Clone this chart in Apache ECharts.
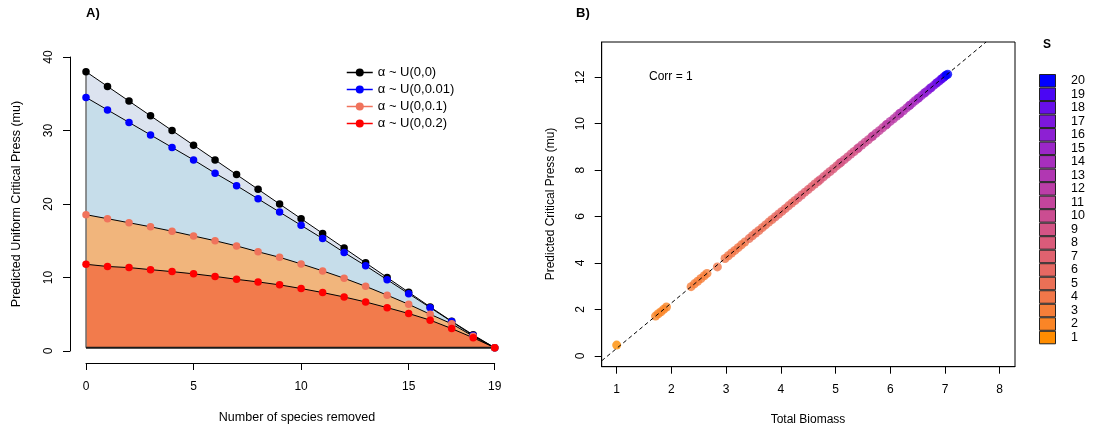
<!DOCTYPE html>
<html>
<head>
<meta charset="utf-8">
<script src="https://cdn.jsdelivr.net/npm/echarts@6/dist/echarts.min.js"></script>
<style>
  html, body { margin: 0; padding: 0; background: #ffffff; }
  #chart { width: 1099px; height: 432px; }
</style>
</head>
<body>
<div id="chart"></div>
<script>
const FONT = '"Liberation Sans", Arial, Helvetica, sans-serif';

// ---------- Panel A: critical press vs. number of species removed ----------
const speciesRemoved = [0, 1, 2, 3, 4, 5, 6, 7, 8, 9, 10, 11, 12, 13, 14, 15, 16, 17, 18, 19];
const pressU0    = [38, 36, 34, 32, 30, 28, 26, 24, 22, 20, 18, 16, 14, 12, 10, 8, 6, 4.05, 2.2, 0.45];
const pressU001  = [34.5, 32.8, 31.1, 29.4, 27.7, 26.0, 24.2, 22.5, 20.7, 18.9, 17.1, 15.3, 13.4, 11.6, 9.7, 7.8, 5.9, 4.0, 2.1, 0.45];
const pressU01   = [18.55, 18.0, 17.45, 16.9, 16.3, 15.65, 15.0, 14.3, 13.5, 12.75, 11.85, 10.9, 9.9, 8.8, 7.6, 6.35, 5.0, 3.7, 2.0, 0.45];
const pressU02   = [11.8, 11.5, 11.35, 11.07, 10.8, 10.5, 10.15, 9.75, 9.4, 9.0, 8.5, 7.95, 7.35, 6.67, 5.9, 5.1, 4.2, 3.05, 1.8, 0.45];
const scenarioNames = ['α ~ U(0,0)', 'α ~ U(0,0.01)', 'α ~ U(0,0.1)', 'α ~ U(0,0.2)'];
const removedTicks = [0, 5, 10, 15, 19];
const pressTicks = [0, 10, 20, 30, 40];

// ---------- Panel B: predicted critical press vs. total biomass, by richness S ----------
const richnessLevels = [1, 2, 3, 4, 5, 6, 7, 8, 9, 10, 11, 12, 13, 14, 15, 16, 17, 18, 19, 20];
const totalBiomass = [
  [1.00],
  [1.71, 1.76, 1.81, 1.86, 1.91],
  [2.36, 2.42, 2.48, 2.54, 2.60, 2.65],
  [2.84, 2.98, 3.04, 3.10, 3.16, 3.22, 3.28, 3.34],
  [3.42, 3.48, 3.54, 3.60, 3.66, 3.72, 3.78, 3.84],
  [3.90, 3.96, 4.02, 4.08, 4.14, 4.20, 4.26],
  [4.32, 4.38, 4.44, 4.50, 4.56, 4.62, 4.68],
  [4.72, 4.78, 4.84, 4.90, 4.96, 5.02, 5.07],
  [5.10, 5.16, 5.22, 5.28, 5.34, 5.40],
  [5.42, 5.48, 5.54, 5.60, 5.66],
  [5.68, 5.74, 5.80, 5.86, 5.92],
  [5.94, 6.00, 6.06, 6.12, 6.17],
  [6.18, 6.24, 6.30, 6.35],
  [6.36, 6.41, 6.46, 6.51],
  [6.52, 6.57, 6.62],
  [6.64, 6.69, 6.73],
  [6.75, 6.80, 6.84],
  [6.86, 6.90, 6.93],
  [6.95, 6.98, 7.00],
  [7.02, 7.05]
];
const predictedPress = [
  [0.46],
  [1.71, 1.81, 1.90, 2.00, 2.10],
  [2.98, 3.10, 3.21, 3.33, 3.45, 3.55],
  [3.83, 4.19, 4.31, 4.43, 4.54, 4.66, 4.78, 4.90],
  [5.05, 5.17, 5.29, 5.40, 5.52, 5.64, 5.76, 5.87],
  [5.99, 6.11, 6.22, 6.34, 6.46, 6.58, 6.69],
  [6.81, 6.93, 7.05, 7.16, 7.28, 7.40, 7.51],
  [7.59, 7.71, 7.83, 7.94, 8.06, 8.18, 8.28],
  [8.34, 8.45, 8.57, 8.69, 8.80, 8.92],
  [8.96, 9.08, 9.20, 9.31, 9.43],
  [9.47, 9.59, 9.70, 9.82, 9.94],
  [9.98, 10.10, 10.21, 10.33, 10.43],
  [10.45, 10.56, 10.68, 10.78],
  [10.80, 10.90, 11.00, 11.09],
  [11.11, 11.21, 11.31],
  [11.35, 11.44, 11.52],
  [11.56, 11.66, 11.74],
  [11.78, 11.85, 11.91],
  [11.95, 12.01, 12.05],
  [12.09, 12.13]
];
const biomassTicks = [1, 2, 3, 4, 5, 6, 7, 8];
const criticalTicks = [0, 2, 4, 6, 8, 10, 12];
const fitIntercept = -1.635;
const fitSlope = 1.955;
const corrText = 'Corr = 1';

// ---------- styling ----------
const pointColors = ['#000000', '#0000ff', '#f0735c', '#ff0000'];
const fillColors = ['#dce3ef', '#c6ddea', '#f1b57c', '#f27b4c'];
const xMinB = 0.726, xMaxB = 8.28, yMinB = -0.47, yMaxB = 13.52;

// Lab-space colour ramp (darkorange -> blue) for the richness levels
function toLinear(c) { c /= 255; return c <= 0.04045 ? c / 12.92 : Math.pow((c + 0.055) / 1.055, 2.4); }
function fromLinear(c) { const v = c <= 0.0031308 ? 12.92 * c : 1.055 * Math.pow(c, 1 / 2.4) - 0.055; return Math.max(0, Math.min(255, Math.round(v * 255))); }
function rgbToLab(rgb) {
  const [r, g, b] = rgb.map(toLinear);
  const X = (0.4124 * r + 0.3576 * g + 0.1805 * b) / 0.95047;
  const Y = (0.2126 * r + 0.7152 * g + 0.0722 * b);
  const Z = (0.0193 * r + 0.1192 * g + 0.9505 * b) / 1.08883;
  const f = t => t > 0.008856 ? Math.cbrt(t) : 7.787 * t + 16 / 116;
  const fx = f(X), fy = f(Y), fz = f(Z);
  return [116 * fy - 16, 500 * (fx - fy), 200 * (fy - fz)];
}
function labToHex(lab) {
  const fy = (lab[0] + 16) / 116, fx = fy + lab[1] / 500, fz = fy - lab[2] / 200;
  const inv = t => t * t * t > 0.008856 ? t * t * t : (t - 16 / 116) / 7.787;
  const X = inv(fx) * 0.95047, Y = inv(fy), Z = inv(fz) * 1.08883;
  const r = 3.2406 * X - 1.5372 * Y - 0.4986 * Z;
  const g = -0.9689 * X + 1.8758 * Y + 0.0415 * Z;
  const b = 0.0557 * X - 0.2040 * Y + 1.0570 * Z;
  return '#' + [r, g, b].map(fromLinear).map(v => v.toString(16).padStart(2, '0')).join('');
}
function rampLab(c1, c2, n) {
  const a = rgbToLab(c1), b = rgbToLab(c2), out = [];
  for (let i = 0; i < n; i++) {
    const t = n === 1 ? 0 : i / (n - 1);
    out.push(labToHex([0, 1, 2].map(k => a[k] + (b[k] - a[k]) * t)));
  }
  return out;
}
const richnessColors = rampLab([255, 140, 0], [0, 0, 255], richnessLevels.length);

// ---------- series ----------
const pressSets = [pressU0, pressU001, pressU01, pressU02];
const baseLevel = Math.min(...pressSets.map(s => s[s.length - 1]));
const lastRemoved = speciesRemoved[speciesRemoved.length - 1];

const series = [];
pressSets.forEach((vals, i) => {
  series.push({
    type: 'line', name: 'fill-' + i, xAxisIndex: 0, yAxisIndex: 0,
    data: speciesRemoved.map((k, j) => [k, vals[j]]),
    symbol: 'none', showSymbol: false, silent: true, clip: false,
    lineStyle: { width: 0 },
    areaStyle: { color: fillColors[i], opacity: 1, origin: baseLevel },
    z: 1
  });
});
// polygon outline: left edge and bottom edge
series.push({
  type: 'line', xAxisIndex: 0, yAxisIndex: 0, symbol: 'none', silent: true, clip: false,
  data: [[0, pressU0[0]], [0, baseLevel]],
  lineStyle: { color: '#6e6e6e', width: 1.5 }, z: 2
});
series.push({
  type: 'line', xAxisIndex: 0, yAxisIndex: 0, symbol: 'none', silent: true, clip: false,
  data: [[0, baseLevel], [lastRemoved, baseLevel]],
  lineStyle: { color: '#1a1a1a', width: 2 }, z: 2
});
pressSets.forEach((vals, i) => {
  series.push({
    type: 'line', name: scenarioNames[i], xAxisIndex: 0, yAxisIndex: 0,
    data: speciesRemoved.map((k, j) => [k, vals[j]]),
    symbol: 'circle', symbolSize: 7.5, showAllSymbol: true, clip: false,
    itemStyle: { color: pointColors[i] },
    lineStyle: { color: '#000000', width: 1 },
    z: 3
  });
});

// panel B scatter
const scatterData = [];
richnessLevels.forEach((s, i) => {
  totalBiomass[i].forEach((bm, j) => {
    scatterData.push({ value: [bm, predictedPress[i][j], s], itemStyle: { color: richnessColors[i] } });
  });
});
series.push({
  type: 'scatter', xAxisIndex: 1, yAxisIndex: 1, data: scatterData,
  symbol: 'circle', symbolSize: 9, z: 3
});
// fitted relation as a dashed line across the panel
const fitX1 = (yMaxB - fitIntercept) / fitSlope;
series.push({
  type: 'line', xAxisIndex: 1, yAxisIndex: 1, symbol: 'none', silent: true,
  data: [[xMinB, fitIntercept + fitSlope * xMinB], [fitX1, yMaxB]],
  lineStyle: { color: '#000000', width: 1, type: [4, 3] }, z: 4
});
// colour key for S
series.push({
  type: 'bar', xAxisIndex: 2, yAxisIndex: 2, barCategoryGap: '0%', silent: true,
  data: richnessLevels.map((s, i) => ({ value: 1, itemStyle: { color: richnessColors[i] } })),
  itemStyle: { borderColor: '#222222', borderWidth: 1 }, z: 2
});

const tickLabel = { color: '#000', fontFamily: FONT, fontSize: 12 };

const option = {
  animation: false,
  backgroundColor: '#ffffff',
  textStyle: { fontFamily: FONT },
  grid: [
    { left: 86, top: 57, width: 408.7, height: 294 },
    { left: 601.7, top: 42, width: 413.3, height: 324.7, show: true, borderColor: '#000', borderWidth: 1, backgroundColor: 'transparent' },
    { left: 1039, top: 74, width: 17, height: 270.3 }
  ],
  xAxis: [
    {
      gridIndex: 0, type: 'value', min: 0, max: 19, interval: 5, offset: 12,
      axisLine: { show: true, onZero: false, lineStyle: { color: '#000', width: 1 } },
      axisTick: { show: true, length: 7, lineStyle: { color: '#000' }, customValues: removedTicks },
      axisLabel: Object.assign({ margin: 18, customValues: removedTicks, showMinLabel: true, showMaxLabel: true }, tickLabel),
      splitLine: { show: false }
    },
    {
      gridIndex: 1, type: 'value', min: xMinB, max: xMaxB,
      axisLine: { show: true, onZero: false, lineStyle: { color: '#000', width: 1 } },
      axisTick: { show: true, length: 7, lineStyle: { color: '#000' }, customValues: biomassTicks },
      axisLabel: Object.assign({ margin: 17, customValues: biomassTicks }, tickLabel),
      splitLine: { show: false }
    },
    {
      gridIndex: 2, type: 'value', min: 0, max: 1, show: false
    }
  ],
  yAxis: [
    {
      gridIndex: 0, type: 'value', min: 0, max: 40, interval: 10, offset: 16,
      axisLine: { show: true, onZero: false, lineStyle: { color: '#000', width: 1 } },
      axisTick: { show: true, length: 7, lineStyle: { color: '#000' }, customValues: pressTicks },
      axisLabel: Object.assign({ margin: 15, rotate: 90, customValues: pressTicks }, tickLabel),
      splitLine: { show: false }
    },
    {
      gridIndex: 1, type: 'value', min: yMinB, max: yMaxB,
      axisLine: { show: true, onZero: false, lineStyle: { color: '#000', width: 1 } },
      axisTick: { show: true, length: 7, lineStyle: { color: '#000' }, customValues: criticalTicks },
      axisLabel: Object.assign({ margin: 15, rotate: 90, customValues: criticalTicks }, tickLabel),
      splitLine: { show: false }
    },
    {
      gridIndex: 2, type: 'category', position: 'right',
      data: richnessLevels.map(String),
      axisLine: { show: false },
      axisTick: { show: true, length: 7, alignWithLabel: true, lineStyle: { color: '#000' } },
      axisLabel: Object.assign({ margin: 15, interval: 0 }, tickLabel, { fontSize: 12.5 }),
      splitLine: { show: false }
    }
  ],
  legend: {
    orient: 'vertical', left: 341, top: 61,
    itemWidth: 26, itemHeight: 10, itemGap: 4,
    textStyle: { fontFamily: FONT, fontSize: 13, color: '#000' },
    data: scenarioNames.map((n, i) => ({
      name: n,
      itemStyle: { color: pointColors[i] },
      lineStyle: { color: pointColors[i], width: 1.5 }
    }))
  },
  graphic: [
    { type: 'text', left: 86, top: 7, style: { text: 'A)', font: 'bold 13px ' + FONT, fill: '#000' } },
    { type: 'text', left: 576, top: 7, style: { text: 'B)', font: 'bold 13px ' + FONT, fill: '#000' } },
    { type: 'text', left: 1043, top: 39, style: { text: 'S', font: 'bold 12px ' + FONT, fill: '#000' } },
    { type: 'text', x: 649, y: 77, style: { text: corrText, font: '12px ' + FONT, fill: '#000', verticalAlign: 'middle' } },
    { type: 'text', x: 297, y: 418, style: { text: 'Number of species removed', font: '12.5px ' + FONT, fill: '#000', align: 'center', verticalAlign: 'middle' } },
    { type: 'text', x: 808, y: 420, style: { text: 'Total Biomass', font: '12px ' + FONT, fill: '#000', align: 'center', verticalAlign: 'middle' } },
    { type: 'text', x: 17, y: 204, rotation: Math.PI / 2, style: { text: 'Predicted Uniform Critical Press (mu)', font: '12.5px ' + FONT, fill: '#000', align: 'center', verticalAlign: 'middle' } },
    { type: 'text', x: 551, y: 204, rotation: Math.PI / 2, style: { text: 'Predicted Critical Press (mu)', font: '12px ' + FONT, fill: '#000', align: 'center', verticalAlign: 'middle' } }
  ],
  series: series
};

const chart = echarts.init(document.getElementById('chart'), null, { renderer: 'canvas' });
chart.setOption(option);
</script>
</body>
</html>
